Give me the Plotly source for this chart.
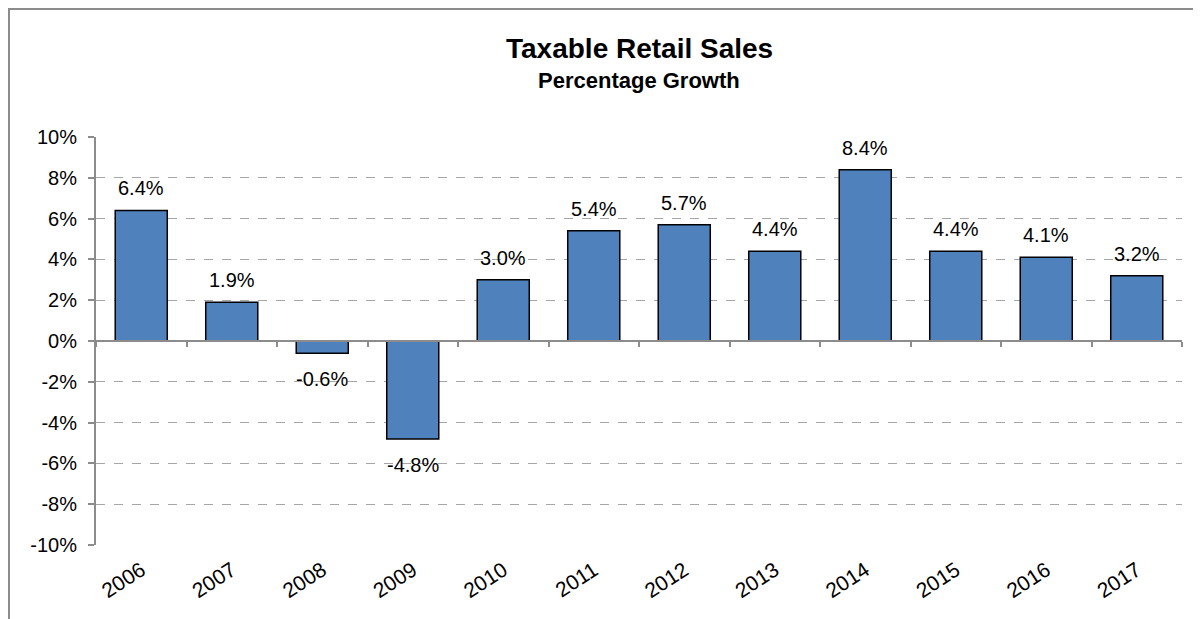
import plotly.graph_objects as go

# Data
years = ["2006", "2007", "2008", "2009", "2010", "2011",
         "2012", "2013", "2014", "2015", "2016", "2017"]
growth = [6.4, 1.9, -0.6, -4.8, 3.0, 5.4, 5.7, 4.4, 8.4, 4.4, 4.1, 3.2]
y_ticks = [-10, -8, -6, -4, -2, 0, 2, 4, 6, 8, 10]
y_tick_labels = [f"{v}%" for v in y_ticks]

x_pos = list(range(len(years)))
boundaries = [i - 0.5 for i in range(len(years) + 1)]

# page body adds an 8px offset, so layout numbers are shifted by 8
W, H = 1201, 619
ml, mr, mt, mb = 88, 27, 129, 82
pw, ph = W - ml - mr, H - mt - mb
FONT = "Liberation Sans, Arial"

def paper_y(px_from_top):
    return 1 + (mt - px_from_top) / ph

fig = go.Figure()
fig.add_trace(go.Bar(
    x=x_pos, y=growth,
    marker=dict(color="#4F81BD", line=dict(color="black", width=1.5)),
    width=0.575,
    hoverinfo="y",
))
# invisible trace on second x axis so the zero axis line shows
fig.add_trace(go.Scatter(x=[boundaries[0], boundaries[-1]], y=[0, 0], xaxis="x2",
                         mode="lines", line=dict(color="rgba(0,0,0,0)"),
                         hoverinfo="skip", showlegend=False))

# value labels above / below bars
labels = []
for xi, v in zip(x_pos, growth):
    labels.append(dict(
        x=xi, y=v, xref="x", yref="y", text=f"{v:.1f}%", showarrow=False,
        yanchor="bottom" if v >= 0 else "top",
        yshift=9 if v >= 0 else -13,
        font=dict(family=FONT, size=20, color="black"),
    ))

fig.update_layout(
    width=W, height=H,
    margin=dict(l=ml, r=mr, t=mt, b=mb, autoexpand=False),
    plot_bgcolor="white", paper_bgcolor="white",
    showlegend=False,
    font=dict(family=FONT, size=20, color="black"),
    xaxis=dict(
        range=[boundaries[0], boundaries[-1]],
        tickvals=x_pos, ticktext=years, tickangle=-33,
        showline=False, showgrid=False, zeroline=False, ticks="",
        ticklabelstandoff=8,
        tickfont=dict(size=21), automargin=False,
    ),
    xaxis2=dict(
        overlaying="x", anchor="free", position=0.5, side="bottom",
        range=[boundaries[0], boundaries[-1]],
        tickvals=boundaries, showticklabels=False,
        ticks="outside", ticklen=5, tickcolor="#8c8c8c", tickwidth=2,
        showline=True, linecolor="#8c8c8c", linewidth=2,
        showgrid=False, zeroline=False, automargin=False,
    ),
    yaxis=dict(
        range=[-10, 10], tickvals=y_ticks, ticktext=y_tick_labels,
        showline=True, linecolor="#8c8c8c", linewidth=2,
        ticks="outside", ticklen=6, tickcolor="#8c8c8c", tickwidth=2,
        ticklabelstandoff=7,
        showgrid=True, gridcolor="#a6a6a6", griddash="dash", gridwidth=1,
        zeroline=False, tickfont=dict(size=20), automargin=False,
    ),
    annotations=labels + [
        dict(text="<b>Taxable Retail Sales</b>", x=0.5, y=paper_y(41),
             xref="paper", yref="paper", showarrow=False, yanchor="middle",
             font=dict(family=FONT, size=28, color="black")),
        dict(text="<b>Percentage Growth</b>", x=0.5, y=paper_y(72),
             xref="paper", yref="paper", showarrow=False, yanchor="middle",
             font=dict(family=FONT, size=22, color="black")),
    ],
    shapes=[dict(type="rect", xref="paper", yref="paper",
                 x0=(1 - ml) / pw, x1=1.1, y0=-0.5, y1=paper_y(1),
                 line=dict(color="#8c8c8c", width=2), layer="below")],
)

fig.write_html("out.html")
